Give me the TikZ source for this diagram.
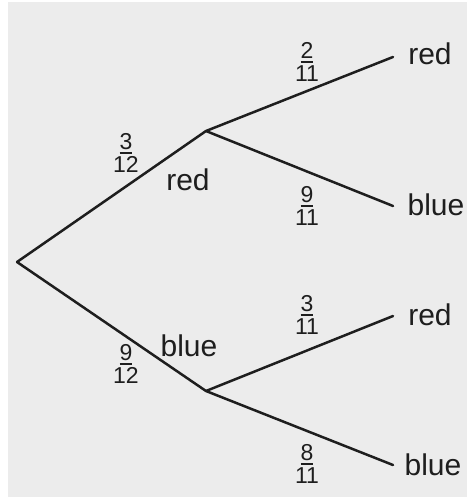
\documentclass[tikz,border=0pt]{standalone}
\usepackage{fontspec}
\setmainfont{Liberation Sans}
\definecolor{bg}{HTML}{ECECEC}
\definecolor{ink}{HTML}{1E1E1E}
\newsavebox\numbox
\newcommand\frbox[2]{\sbox\numbox{#1}\vbox{\offinterlineskip\halign{\hfil##\hfil\cr\usebox\numbox\cr\noalign{\kern1.8pt}\rule{\wd\numbox}{1.9pt}\cr\noalign{\kern2.8pt}#2\cr}}}
\tikzset{
  branch/.style={draw=ink, line width=2.5pt, line cap=round, line join=round},
  outcome/.style={inner sep=0pt, text=ink, font=\fontsize{30}{32}\selectfont},
  prob/.style={inner sep=0pt, text=ink, font=\fontsize{23}{26}\selectfont}
}
\begin{document}
\begin{tikzpicture}[x=1pt,y=-1pt]
\useasboundingbox (0,0) rectangle (467,497);
\fill[white] (0,0) rectangle (467,497);
\fill[bg] (8,2) rectangle (467,497);
% branch points
\coordinate (root) at (17,262);
\coordinate (A) at (206,131);
\coordinate (B) at (206,391);
\coordinate (e1) at (393,57);
\coordinate (e2) at (393,206);
\coordinate (e3) at (393,316);
\coordinate (e4) at (393,465);
% connectors
\draw[branch] (root) -- (A);
\draw[branch] (root) -- (B);
\draw[branch] (A) -- (e1);
\draw[branch] (A) -- (e2);
\draw[branch] (B) -- (e3);
\draw[branch] (B) -- (e4);
% outcome labels
\node[outcome] (midred) at (188,180) {red};
\node[outcome] (midblue) at (189,346) {blue};
\node[outcome] (r1) at (430,54) {red};
\node[outcome] (b1) at (436,205) {blue};
\node[outcome] (r2) at (430,315) {red};
\node[outcome] (b2) at (433,465) {blue};
% probabilities
\node[prob] (p1) at (126,153) {\frbox{3}{12}};
\node[prob] (p2) at (126,364) {\frbox{9}{12}};
\node[prob] (p3) at (307,62) {\frbox{2}{11}};
\node[prob] (p4) at (307,206) {\frbox{9}{11}};
\node[prob] (p5) at (307,315) {\frbox{3}{11}};
\node[prob] (p6) at (307,464) {\frbox{8}{11}};
\end{tikzpicture}
\end{document}
